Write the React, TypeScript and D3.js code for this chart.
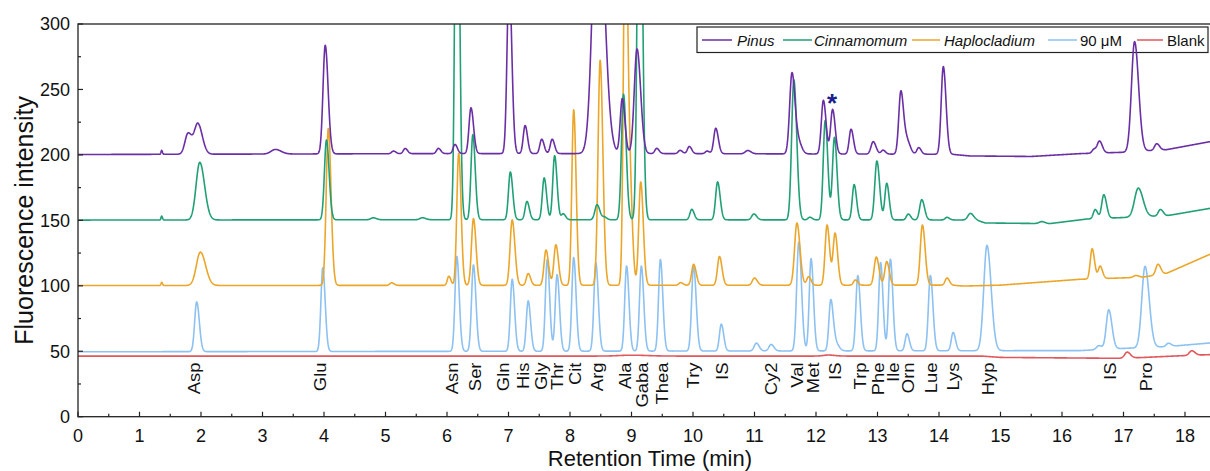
import React from 'react';
import * as d3 from 'd3';

// ---------- data ----------
// peaks: [retention time (min), height above baseline, width (sigma, min)]
const pinusBaseline = [[0, 200.3], [6, 201], [9.5, 201], [14.2, 200.5], [14.5, 199.2], [15.5, 198.8], [16.3, 201], [17, 202], [17.7, 204], [18.45, 210.5]];
const pinusPeaks = [
  [1.36, 3, 0.01], [1.79, 16, 0.05], [1.95, 23, 0.055], [3.21, 3.5, 0.07], [4.02, 83, 0.036],
  [5.13, 2, 0.03], [5.32, 4, 0.03], [5.86, 4, 0.03], [6.13, 7, 0.03], [6.39, 35, 0.032],
  [7.01, 135, 0.033], [7.27, 21.5, 0.03], [7.54, 11, 0.03], [7.71, 11, 0.03], [8.45, 215, 0.08],
  [8.85, 42, 0.033], [9.09, 80, 0.045], [9.41, 4, 0.03], [9.79, 2.5, 0.03], [9.94, 5.5, 0.03],
  [10.23, 2, 0.03], [10.37, 19.5, 0.032], [10.89, 2.5, 0.04], [11.61, 62, 0.038], [11.72, 8, 0.04],
  [12.12, 41, 0.033], [12.27, 34, 0.032], [12.57, 19, 0.03], [12.93, 9.5, 0.035], [13.09, 3, 0.03],
  [13.38, 48, 0.034], [13.48, 10, 0.04], [13.67, 5, 0.03], [14.07, 67, 0.034], [16.52, 3, 0.03],
  [16.61, 9, 0.035], [17.18, 84, 0.05], [17.54, 5, 0.035],
];

const cinnBaseline = [[0, 150.2], [6, 150.5], [14.6, 150.3], [14.75, 148], [15.8, 147.5], [16.4, 151], [17.7, 153.5], [18.45, 159.5]];
const cinnPeaks = [
  [1.36, 3, 0.01], [1.98, 44, 0.06], [4.04, 61, 0.033], [4.8, 1.5, 0.04], [5.6, 1.5, 0.04],
  [6.16, 360, 0.03], [6.42, 65, 0.03], [7.03, 36.5, 0.03], [7.3, 14, 0.03], [7.58, 32, 0.03],
  [7.75, 49, 0.03], [7.89, 4.5, 0.03], [8.44, 11.5, 0.035], [8.56, 2, 0.03], [8.87, 96, 0.033],
  [9.13, 360, 0.033], [9.98, 8, 0.03], [10.4, 29, 0.032], [10.99, 4.5, 0.035], [11.64, 107, 0.036],
  [11.9, 2, 0.03], [12.15, 76, 0.032], [12.3, 63, 0.032], [12.62, 27, 0.03], [12.99, 45, 0.034],
  [13.15, 28, 0.03], [13.5, 4.5, 0.03], [13.72, 15.5, 0.034], [14.13, 2, 0.03], [14.51, 5, 0.04],
  [15.67, 1.5, 0.04], [16.54, 7, 0.03], [16.68, 18, 0.034], [17.24, 22, 0.06], [17.6, 5, 0.035],
];

const haploBaseline = [[0, 100.2], [14.2, 100.5], [14.4, 99.8], [15, 100.5], [16.3, 105], [17.3, 106.5], [17.7, 109.5], [18.45, 125]];
const haploPeaks = [
  [1.36, 2.5, 0.01], [1.99, 25.5, 0.065], [4.07, 120, 0.034], [5.1, 2, 0.03], [6.03, 7, 0.025],
  [6.19, 101, 0.03], [6.43, 51, 0.032], [7.06, 50, 0.034], [7.32, 9, 0.03], [7.61, 27, 0.032],
  [7.77, 31, 0.032], [8.06, 134, 0.03], [8.49, 172, 0.034], [8.9, 300, 0.03], [8.98, 65, 0.03],
  [9.15, 79, 0.032], [9.8, 2, 0.03], [10.01, 16, 0.032], [10.43, 22, 0.032], [11.0, 5.5, 0.035],
  [11.69, 47.5, 0.038], [11.88, 6.5, 0.03], [12.18, 46, 0.032], [12.31, 39.5, 0.032], [12.64, 4, 0.03],
  [12.98, 21.5, 0.034], [13.15, 18, 0.032], [13.73, 46, 0.034], [14.13, 5.5, 0.03], [16.49, 23, 0.03],
  [16.62, 9.5, 0.03], [17.2, 1.5, 0.04], [17.56, 8, 0.035],
];

const stdBaseline = [[0, 49.6], [16.3, 50.5], [16.9, 52], [17.7, 53.5], [18.45, 56.5]];
const stdPeaks = [
  [1.93, 38, 0.033], [3.98, 64, 0.03], [6.16, 72.5, 0.03], [6.43, 66, 0.031], [7.06, 55, 0.03],
  [7.32, 38.5, 0.03], [7.63, 70, 0.03], [7.79, 58.5, 0.03], [8.06, 71.5, 0.03], [8.42, 67.5, 0.031],
  [8.92, 65, 0.03], [9.16, 65, 0.03], [9.47, 70, 0.03], [10.01, 65, 0.032], [10.46, 20.5, 0.03],
  [11.03, 6, 0.035], [11.27, 5, 0.035], [11.72, 83, 0.034], [11.92, 70.5, 0.03], [12.24, 38.5, 0.03],
  [12.32, 6, 0.04], [12.68, 57.5, 0.031], [13.05, 67.5, 0.03], [13.21, 70, 0.03], [13.48, 13, 0.03],
  [13.86, 57.5, 0.032], [14.23, 14, 0.03], [14.78, 80.5, 0.052], [16.6, 3, 0.04], [16.76, 30, 0.04],
  [17.35, 62, 0.052], [17.73, 2.5, 0.035],
];

const blankBaseline = [[0, 46.3], [14.7, 46.3], [15.0, 45.3], [16.9, 44.6], [17.3, 45.2], [17.9, 46.5], [18.45, 47.5]];
const blankPeaks = [[9.0, 0.7, 0.2], [12.2, 0.8, 0.08], [17.06, 4.5, 0.04], [18.11, 3.5, 0.04]];

const seriesNames = ['Pinus', 'Cinnamomum', 'Haplocladium', '90 μM', 'Blank'];
const seriesColors = ['#6b2fa5', '#21a077', '#eba62a', '#8cc1f2', '#e0575c'];

const peakLabels = ['Asp', 'Glu', 'Asn', 'Ser', 'Gln', 'His', 'Gly', 'Thr', 'Cit', 'Arg', 'Ala', 'Gaba', 'Thea', 'Try', 'IS', 'Cy2', 'Val', 'Met', 'IS', 'Trp', 'Phe', 'Ile', 'Orn', 'Lue', 'Lys', 'Hyp', 'IS', 'Pro'];
const peakLabelTimes = [1.89, 3.94, 6.08, 6.46, 6.92, 7.24, 7.54, 7.79, 8.09, 8.44, 8.9, 9.17, 9.5, 10.01, 10.47, 11.28, 11.69, 11.96, 12.31, 12.72, 13.02, 13.26, 13.5, 13.88, 14.24, 14.81, 16.79, 17.38];

const xTicks = d3.range(0, 19, 1);
const xMinor = d3.range(0.5, 18.5, 1);
const yTicks = [0, 50, 100, 150, 200, 250, 300];
const yMinor = [25, 75, 125, 175, 225, 275];

// ---------- layout ----------
const W = 1210, H = 471;
const L = 78, T = 24, B = 416.7, R = 1212;
const X_MAX = (R - L) / 61.5;
const FONT = 'Liberation Sans, Arial, Helvetica, sans-serif';

const x = d3.scaleLinear().domain([0, X_MAX]).range([L, R]);
const y = d3.scaleLinear().domain([0, 300]).range([B, T]);

function trace(baseline, peaks) {
  const bl = d3.scaleLinear().domain(baseline.map(d => d[0])).range(baseline.map(d => d[1])).clamp(true);
  const grid = d3.range(0, X_MAX + 0.004, 0.004);
  return grid.map(t => {
    let v = bl(t);
    for (const [c, h, s] of peaks) {
      const sg = t < c ? s : s * 1.3;
      const z = (t - c) / sg;
      if (Math.abs(z) < 8) v += h * Math.exp(-0.5 * z * z);
    }
    return [t, v];
  });
}

const allSeries = [
  [pinusBaseline, pinusPeaks],
  [cinnBaseline, cinnPeaks],
  [haploBaseline, haploPeaks],
  [stdBaseline, stdPeaks],
  [blankBaseline, blankPeaks],
];

const legendLineX = [702, 783, 912, 1048, 1137];
const legendLineX2 = [732, 812, 940, 1077, 1163];
const legendTextX = [737, 814, 944, 1080, 1167];

export default function App() {
  const line = d3.line().x(d => x(d[0])).y(d => y(d[1]));
  const paths = allSeries.map(([b, p]) => line(trace(b, p)));
  const order = [4, 3, 2, 1, 0];
  return (
    <div style={{ position: 'absolute', left: 0, top: 0 }}>
      <svg width={W} height={H} style={{ display: 'block', background: '#fff' }} fontFamily={FONT}>
        <defs>
          <clipPath id="plotclip">
            <rect x={L} y={T} width={R - L} height={B - T} />
          </clipPath>
        </defs>
        {/* legend box */}
        <rect x={697} y={27} width={511} height={25.5} fill="#fff" stroke="#222" strokeWidth={1.2} />
        {seriesNames.map((n, i) => (
          <g key={n}>
            <line x1={legendLineX[i]} x2={legendLineX2[i]} y1={40} y2={40} stroke={seriesColors[i]} strokeWidth={1.5} />
            <text x={legendTextX[i]} y={46} fontSize={15} fontStyle={i < 3 ? 'italic' : 'normal'} fill="#111">{n}</text>
          </g>
        ))}
        {/* traces */}
        <g clipPath="url(#plotclip)">
          {order.map(i => (
            <path key={i} d={paths[i]} fill="none" stroke={seriesColors[i]} strokeWidth={1.6} strokeLinejoin="round" />
          ))}
        </g>
        {/* frame */}
        <rect x={L} y={T} width={R - L} height={B - T} fill="none" stroke="#222" strokeWidth={1.3} />
        {/* ticks */}
        {xTicks.map(t => (
          <g key={'xt' + t}>
            <line x1={x(t)} x2={x(t)} y1={B} y2={B - 5} stroke="#222" strokeWidth={1.2} />
            <text x={x(t)} y={442} fontSize={18} textAnchor="middle" fill="#111">{t}</text>
          </g>
        ))}
        {xMinor.map(t => (
          <line key={'xm' + t} x1={x(t)} x2={x(t)} y1={B} y2={B - 3} stroke="#222" strokeWidth={1.2} />
        ))}
        {yTicks.map(v => (
          <g key={'yt' + v}>
            <line x1={L} x2={L + 5} y1={y(v)} y2={y(v)} stroke="#222" strokeWidth={1.2} />
            <text x={70} y={y(v)} dy="0.35em" fontSize={18} textAnchor="end" fill="#111">{v}</text>
          </g>
        ))}
        {yMinor.map(v => (
          <line key={'ym' + v} x1={L} x2={L + 3} y1={y(v)} y2={y(v)} stroke="#222" strokeWidth={1.2} />
        ))}
        {/* peak labels */}
        {peakLabels.map((lab, i) => (
          <text key={'pl' + i} transform={`translate(${x(peakLabelTimes[i])},362.5) rotate(-90) scale(1.15,1)`} textAnchor="end" dy="0.35em" fontSize={16} fill="#111">{lab}</text>
        ))}
        {/* asterisk */}
        <text x={832} y={112} fontSize={26} fontWeight="bold" textAnchor="middle" fill="#1c1c8a">*</text>
        {/* axis titles */}
        <text transform={`translate(24,${(T + B) / 2}) rotate(-90)`} textAnchor="middle" dy="0.35em" fontSize={25} fill="#111">Fluorescence intensity</text>
        <text x={x(9.3)} y={466} textAnchor="middle" fontSize={22} fill="#111">Retention Time (min)</text>
      </svg>
    </div>
  );
}
